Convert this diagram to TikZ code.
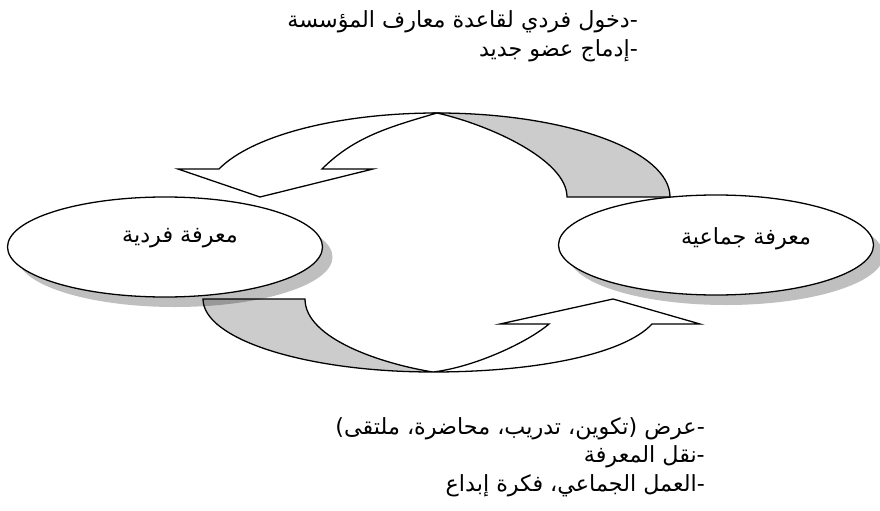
\documentclass[tikz,border=0pt]{standalone}
\usepackage{fontspec}
\usetikzlibrary{shapes.geometric,shadows}
\TeXXeTstate=1
\newfontfamily\arabicfont[Script=Arabic]{DejaVu Sans}
\definecolor{bandgray}{HTML}{CCCCCC}
\tikzset{
  bandfront/.style={fill=white, draw=black, line width=1.1pt, line join=miter},
  bandback/.style={fill=bandgray, draw=black, line width=1.1pt, line join=miter},
  bubble/.style={ellipse, draw=black, fill=white, line width=1.1pt,
    minimum width=9.45cm, minimum height=3.0cm, inner sep=0pt,
    drop shadow={shadow xshift=0.3cm, shadow yshift=-0.3cm, fill=black, opacity=0.25}},
  bubbletext/.style={inner sep=0pt, font=\arabicfont\fontsize{19}{22}\selectfont},
  note/.style={anchor=base east, inner sep=0pt, font=\arabicfont\fontsize{19}{23}\selectfont}
}
\begin{document}
\begin{tikzpicture}[x=0.03cm, y=-0.03cm]
\useasboundingbox (0,0) rectangle (880,511);
% upper curved arrow (points to the left)
\filldraw[bandback] (437,113) .. controls (565.7,113) and (670,150.6) .. (670,197)
  -- (567,197) .. controls (567,160) and (490,125) .. (437,113) -- cycle;
\filldraw[bandfront] (260,197) -- (178,169) -- (219,169)
  .. controls (251.9,135.5) and (338.4,113) .. (437,113)
  .. controls (389,127) and (354,137) .. (322,169) -- (373,169) -- cycle;
% lower curved arrow (points to the right)
\filldraw[bandback] (203,299) -- (305,299) .. controls (305,339) and (383,364) .. (433,372)
  .. controls (306,372) and (203,339.3) .. (203,299) -- cycle;
\filldraw[bandfront] (433,372) .. controls (534,372) and (623.5,354.7) .. (652,324)
  -- (700,324) -- (613,299) -- (500,324) -- (549,324)
  .. controls (528,342) and (475,367) .. (433,372) -- cycle;
% ellipses
\node[bubble] (indiv) at (165,247) {};
\node[bubble] (coll) at (716,245) {};
\node[bubbletext] (indivlbl) at (180,238) {\beginR معرفة فردية\endR};
\node[bubbletext] (colllbl) at (746,239) {\beginR معرفة جماعية\endR};
% notes (right-to-left paragraphs, right aligned)
\node[note] (t1) at (638,28) {\beginR-دخول فردي لقاعدة معارف المؤسسة\endR};
\node[note] (t2) at (638,57) {\beginR-إدماج عضو جديد\endR};
\node[note] (b1) at (705,434) {\beginR-عرض (تكوين، تدريب، محاضرة، ملتقى)\endR};
\node[note] (b2) at (705,462) {\beginR-نقل المعرفة\endR};
\node[note] (b3) at (705,491) {\beginR-العمل الجماعي، فكرة إبداع\endR};
\end{tikzpicture}
\end{document}
